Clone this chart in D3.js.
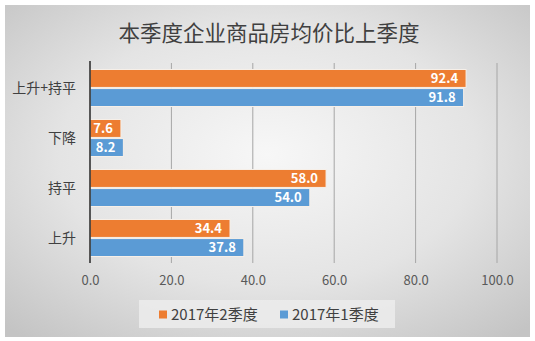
<!DOCTYPE html>
<html>
<head>
<meta charset="utf-8">
<script src="https://cdn.jsdelivr.net/npm/d3@7"></script>
<style>
  html, body { margin: 0; padding: 0; background: #ffffff; }
  svg { display: block; }
  text { font-family: "Noto Sans CJK SC", "Noto Sans", sans-serif; }
</style>
</head>
<body>
<svg id="chart" width="535" height="341"></svg>
<script>
// Chart content
const title = "本季度企业商品房均价比上季度";
const categories = ["上升+持平", "下降", "持平", "上升"];
const seriesNames = ["2017年2季度", "2017年1季度"];
const q2Values = [92.4, 7.6, 58.0, 34.4];
const q1Values = [91.8, 8.2, 54.0, 37.8];
const tickValues = [0, 20, 40, 60, 80, 100];
const colors = ["#ED7D31", "#5B9BD5"];

const svg = d3.select("#chart");
const W = 535, H = 341;

// Panel background: soft grey radial shading
const defs = svg.append("defs");
const grad = defs.append("radialGradient")
  .attr("id", "bg").attr("cx", "50%").attr("cy", "45%").attr("r", "72%");
grad.append("stop").attr("offset", "0%").attr("stop-color", "#f7f7f7");
grad.append("stop").attr("offset", "55%").attr("stop-color", "#e4e4e4");
grad.append("stop").attr("offset", "100%").attr("stop-color", "#c4c4c4");

svg.append("rect").attr("x", 0).attr("y", 0).attr("width", W).attr("height", H).attr("fill", "#ffffff");
svg.append("rect").attr("x", 5).attr("y", 5).attr("width", 525).attr("height", 332)
  .attr("fill", "url(#bg)");

// Scales
const plotTop = 63, plotBottom = 263;
const x = d3.scaleLinear().domain([0, 100]).range([90, 497]);
const y = d3.scaleBand().domain(categories).range([plotTop, plotBottom])
  .paddingInner(0.26).paddingOuter(0.13);
const ySub = d3.scaleBand().domain(seriesNames).range([0, y.bandwidth()]).paddingInner(0.06);

// Title
svg.append("text").attr("x", 269).attr("y", 33).attr("dy", "0.35em").attr("text-anchor", "middle")
  .attr("font-size", 21.5).attr("fill", "#404040").text(title);

// Gridlines running down into tick marks
svg.append("g").selectAll("line").data(tickValues.slice(1)).join("line")
  .attr("x1", d => x(d)).attr("x2", d => x(d))
  .attr("y1", plotTop).attr("y2", plotBottom)
  .attr("stroke", "#a6a6a6").attr("stroke-width", 1);

// Axis labels
const xAxis = d3.axisBottom(x).tickValues(tickValues).tickFormat(d3.format(".1f")).tickSize(0).tickPadding(13);
const gx = svg.append("g").attr("transform", `translate(0,${plotBottom})`).call(xAxis);
gx.select(".domain").remove();
gx.selectAll("text").attr("font-size", 13).attr("fill", "#595959");

// Bars
const rows = categories.map((c, i) => ({ cat: c, vals: [q2Values[i], q1Values[i]] }));
const groups = svg.append("g").selectAll("g").data(rows).join("g")
  .attr("transform", d => `translate(0,${y(d.cat)})`);

groups.selectAll("rect").data(d => d.vals.map((v, j) => ({ v, j }))).join("rect")
  .attr("x", x(0))
  .attr("y", d => ySub(seriesNames[d.j]))
  .attr("width", d => x(d.v) - x(0))
  .attr("height", ySub.bandwidth())
  .attr("fill", d => colors[d.j])
  .attr("stroke", "#f6efe8").attr("stroke-width", 1);

groups.selectAll("text").data(d => d.vals.map((v, j) => ({ v, j }))).join("text")
  .attr("x", d => x(d.v) - 8)
  .attr("y", d => ySub(seriesNames[d.j]) + ySub.bandwidth() / 2)
  .attr("dy", "0.36em").attr("text-anchor", "end")
  .attr("font-size", 13).attr("font-weight", "bold").attr("fill", "#ffffff")
  .text(d => d3.format(".1f")(d.v));

// Vertical axis line
svg.append("line").attr("x1", x(0)).attr("x2", x(0))
  .attr("y1", plotTop - 2).attr("y2", plotBottom)
  .attr("stroke", "#262626").attr("stroke-width", 1.5);

// Category labels
svg.append("g").selectAll("text").data(categories).join("text")
  .attr("x", 76).attr("y", d => y(d) + y.bandwidth() / 2)
  .attr("dy", "0.35em").attr("text-anchor", "end")
  .attr("font-size", 14).attr("fill", "#404040").text(d => d);

// Legend
const lg = svg.append("g");
lg.append("rect").attr("x", 139).attr("y", 300).attr("width", 256).attr("height", 28)
  .attr("fill", "#ececec").attr("opacity", 0.85);
const legendX = [159, 280];
seriesNames.forEach((s, i) => {
  lg.append("rect").attr("x", legendX[i]).attr("y", 310.5).attr("width", 8).attr("height", 8)
    .attr("fill", colors[i]);
  lg.append("text").attr("x", legendX[i] + 12).attr("y", 314.5).attr("dy", "0.35em")
    .attr("font-size", 15).attr("fill", "#404040").text(s);
});
</script>
</body>
</html>
